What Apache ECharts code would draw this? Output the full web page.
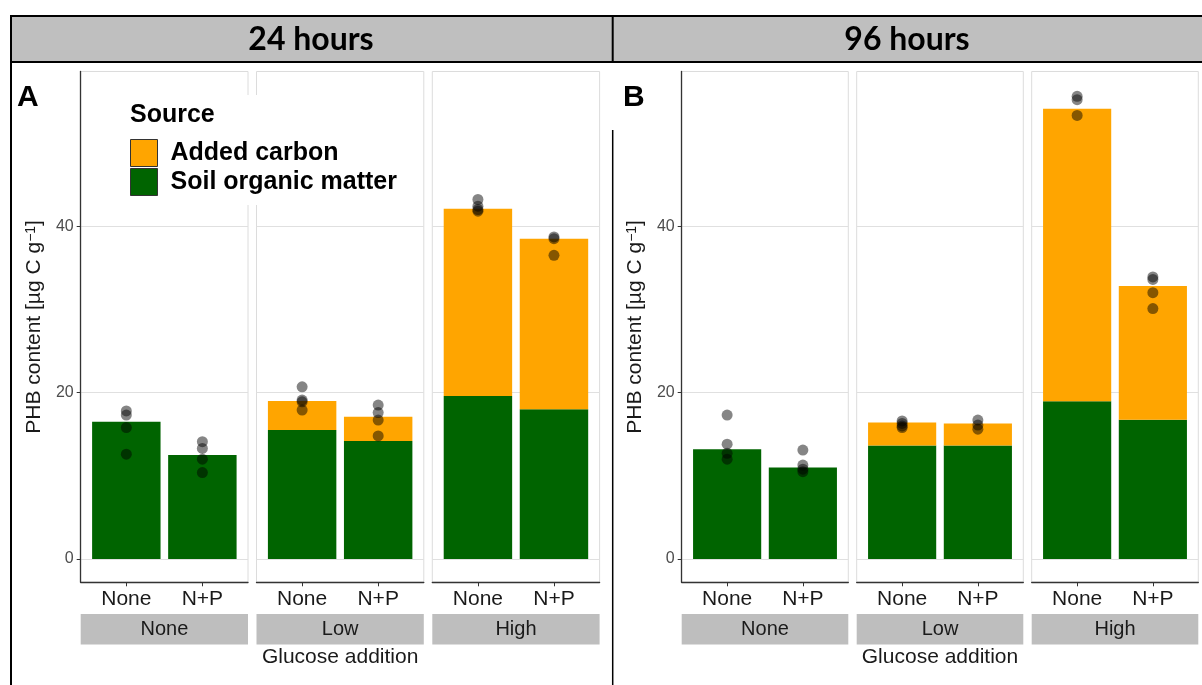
<!DOCTYPE html>
<html><head><meta charset="utf-8">
<script src="https://cdn.jsdelivr.net/npm/echarts@6.0.0/dist/echarts.min.js"></script>
<style>html,body{margin:0;padding:0;background:#fff}#c{width:1202px;height:685px}</style>
</head><body><div id="c"></div>
<script>
// ---------------- data ----------------
const panelTitles = ['24 hours', '96 hours'];
const panelLetters = ['A', 'B'];
const glucoseLevels = ['None', 'Low', 'High'];
const nutrientLevels = ['None', 'N+P'];
const sourceNames = ['Added carbon', 'Soil organic matter'];
const yTicks = [0, 20, 40];
const xTitle = 'Glucose addition';
// order: None/None, None/N+P, Low/None, Low/N+P, High/None, High/N+P
const som24   = [16.5, 12.5, 15.5, 14.2, 19.6, 18.0];
const added24 = [0, 0, 3.5, 2.9, 22.5, 20.5];
const points24 = [
  [17.8, 17.3, 15.8, 12.6],
  [14.1, 13.3, 12.0, 10.4],
  [20.7, 19.1, 18.9, 17.9],
  [18.5, 17.6, 16.7, 14.8],
  [43.2, 42.4, 42.0, 41.8],
  [38.7, 38.5, 36.5]
];
const som96   = [13.2, 11.0, 13.65, 13.65, 18.95, 16.75];
const added96 = [0, 0, 2.75, 2.65, 35.15, 16.05];
const points96 = [
  [17.3, 13.8, 12.7, 12.0],
  [13.1, 11.3, 10.8, 10.5],
  [16.6, 16.3, 16.0, 15.8],
  [16.7, 16.1, 15.6],
  [55.6, 55.2, 53.3],
  [33.9, 33.6, 32.0, 30.1]
];

// ---------------- layout ----------------
const FONT = 'Liberation Sans, Arial, sans-serif';
const TOP = 71.5, BOTTOM = 582.3;
const layouts = [{x0: 80.7, w: 167.3, gap: 8.5}, {x0: 681.7, w: 166.6, gap: 8.4}];
const panelData = [
  {som: som24, added: added24, pts: points24},
  {som: som96, added: added96, pts: points96}
];
const COL_SOM = '#006400', COL_ADD = '#FFA500';

const grids = [], xAxes = [], yAxes = [], series = [], graphics = [];

// header
graphics.push({type: 'rect', shape: {x: 11, y: 16, width: 1200, height: 46}, style: {fill: '#bfbfbf', stroke: '#000', lineWidth: 2}, z: 1});
graphics.push({type: 'line', shape: {x1: 612.7, y1: 16, x2: 612.7, y2: 62}, style: {stroke: '#000', lineWidth: 2}, z: 2});
graphics.push({type: 'line', shape: {x1: 612.7, y1: 130, x2: 612.7, y2: 685}, style: {stroke: '#000', lineWidth: 1.5}, z: 2});
graphics.push({type: 'line', shape: {x1: 11, y1: 62, x2: 11, y2: 685}, style: {stroke: '#000', lineWidth: 2}, z: 2});
const headerCenters = [311, 907];
const letterX = [17, 623];

for (let p = 0; p < 2; p++) {
  const L = layouts[p];
  const D = panelData[p];
  graphics.push({type: 'text', x: headerCenters[p], y: 40, z: 3,
    style: {text: panelTitles[p], font: 'bold 32px Lato, "Open Sans", sans-serif', fill: '#000', textAlign: 'center', textVerticalAlign: 'middle'}});
  graphics.push({type: 'text', x: letterX[p], y: 98, z: 3,
    style: {text: panelLetters[p], font: 'bold 30px ' + FONT, fill: '#000', textAlign: 'left', textVerticalAlign: 'middle'}});
  for (let f = 0; f < 3; f++) {
    const gi = p * 3 + f;
    const left = L.x0 + f * (L.w + L.gap);
    grids.push({left: left, top: TOP, width: L.w, height: BOTTOM - TOP, show: true,
      borderColor: '#dcdcdc', borderWidth: 1, backgroundColor: 'transparent', containLabel: false});
    xAxes.push({gridIndex: gi, type: 'value', min: 0.4, max: 2.6,
      axisLine: {show: true, onZero: false, lineStyle: {color: '#333', width: 1.3}},
      axisTick: {show: true, customValues: [1, 2], length: 4, lineStyle: {color: '#333'}},
      axisLabel: {customValues: [1, 2], formatter: v => nutrientLevels[Math.round(v) - 1],
        fontSize: 21, color: '#1a1a1a', margin: 6, fontFamily: FONT},
      splitLine: {show: false}});
    const yAx = {gridIndex: gi, type: 'value', min: -2.79, max: 58.58,
      axisLine: {show: f === 0, onZero: false, lineStyle: {color: '#333', width: 1.3}},
      axisTick: {show: f === 0, customValues: yTicks, length: 4, lineStyle: {color: '#333'}},
      axisLabel: {show: f === 0, customValues: yTicks, fontSize: 16, color: '#4d4d4d', margin: 7, fontFamily: FONT},
      splitLine: {show: true, lineStyle: {color: '#e0e0e0', width: 1}}};
    if (f === 0) {
      yAx.name = 'PHB content [µg C g{sup|−1}]';
      yAx.nameLocation = 'middle';
      yAx.nameRotate = 90;
      yAx.nameGap = 36;
      yAx.nameTextStyle = {fontSize: 21, color: '#1a1a1a', fontFamily: FONT,
        rich: {sup: {fontSize: 14, color: '#1a1a1a', fontFamily: FONT, verticalAlign: 'top', lineHeight: 14, padding: [0, 0, 8, 0]}}};
    }
    yAxes.push(yAx);
    const bw = L.w * 0.9 / 2.2;
    // data rows are [value, position] so the stacked dimension is the value
    series.push({type: 'bar', name: sourceNames[1], xAxisIndex: gi, yAxisIndex: gi, stack: 'st' + gi,
      barWidth: bw, encode: {x: 1, y: 0},
      data: [[D.som[2 * f], 1], [D.som[2 * f + 1], 2]],
      itemStyle: {color: COL_SOM}, emphasis: {disabled: true}, z: 2});
    series.push({type: 'bar', name: sourceNames[0], xAxisIndex: gi, yAxisIndex: gi, stack: 'st' + gi,
      barWidth: bw, encode: {x: 1, y: 0},
      data: [[D.added[2 * f], 1], [D.added[2 * f + 1], 2]],
      itemStyle: {color: COL_ADD}, emphasis: {disabled: true}, z: 2});
    const pts = [];
    for (let k = 0; k < 2; k++) D.pts[2 * f + k].forEach(v => pts.push([k + 1, v]));
    series.push({type: 'scatter', xAxisIndex: gi, yAxisIndex: gi, data: pts, symbolSize: 11,
      itemStyle: {color: 'rgba(0,0,0,0.6)'}, emphasis: {disabled: true}, z: 5});
    // strip
    graphics.push({type: 'rect', shape: {x: left, y: 614, width: L.w, height: 30.5}, style: {fill: '#bebebe'}, z: 1});
    graphics.push({type: 'text', x: left + L.w / 2, y: 629.5, z: 2,
      style: {text: glucoseLevels[f], font: '20px ' + FONT, fill: '#1a1a1a', textAlign: 'center', textVerticalAlign: 'middle'}});
  }
  const mid = L.x0 + (3 * L.w + 2 * L.gap) / 2;
  graphics.push({type: 'text', x: mid, y: 657.5, z: 2,
    style: {text: xTitle, font: '21px ' + FONT, fill: '#1a1a1a', textAlign: 'center', textVerticalAlign: 'middle'}});
}
graphics.push({type: 'text', x: 130, y: 115, z: 20,
  style: {text: 'Source', font: 'bold 25px ' + FONT, fill: '#000', textAlign: 'left', textVerticalAlign: 'middle'}});

const chart = echarts.init(document.getElementById('c'), null, {renderer: 'canvas'});
chart.setOption({
  animation: false,
  backgroundColor: '#fff',
  grid: grids, xAxis: xAxes, yAxis: yAxes, series: series,
  graphic: {elements: graphics},
  legend: {
    data: sourceNames, orient: 'vertical', left: 112, top: 95,
    padding: [44, 14, 9, 18], itemWidth: 27, itemHeight: 27, itemGap: 1,
    icon: 'rect', itemStyle: {borderColor: '#333', borderWidth: 1},
    backgroundColor: '#fff', selectedMode: false, z: 10,
    textStyle: {fontSize: 25, fontWeight: 'bold', color: '#000', fontFamily: FONT, padding: [0, 0, 0, 8]}
  }
});
</script></body></html>
